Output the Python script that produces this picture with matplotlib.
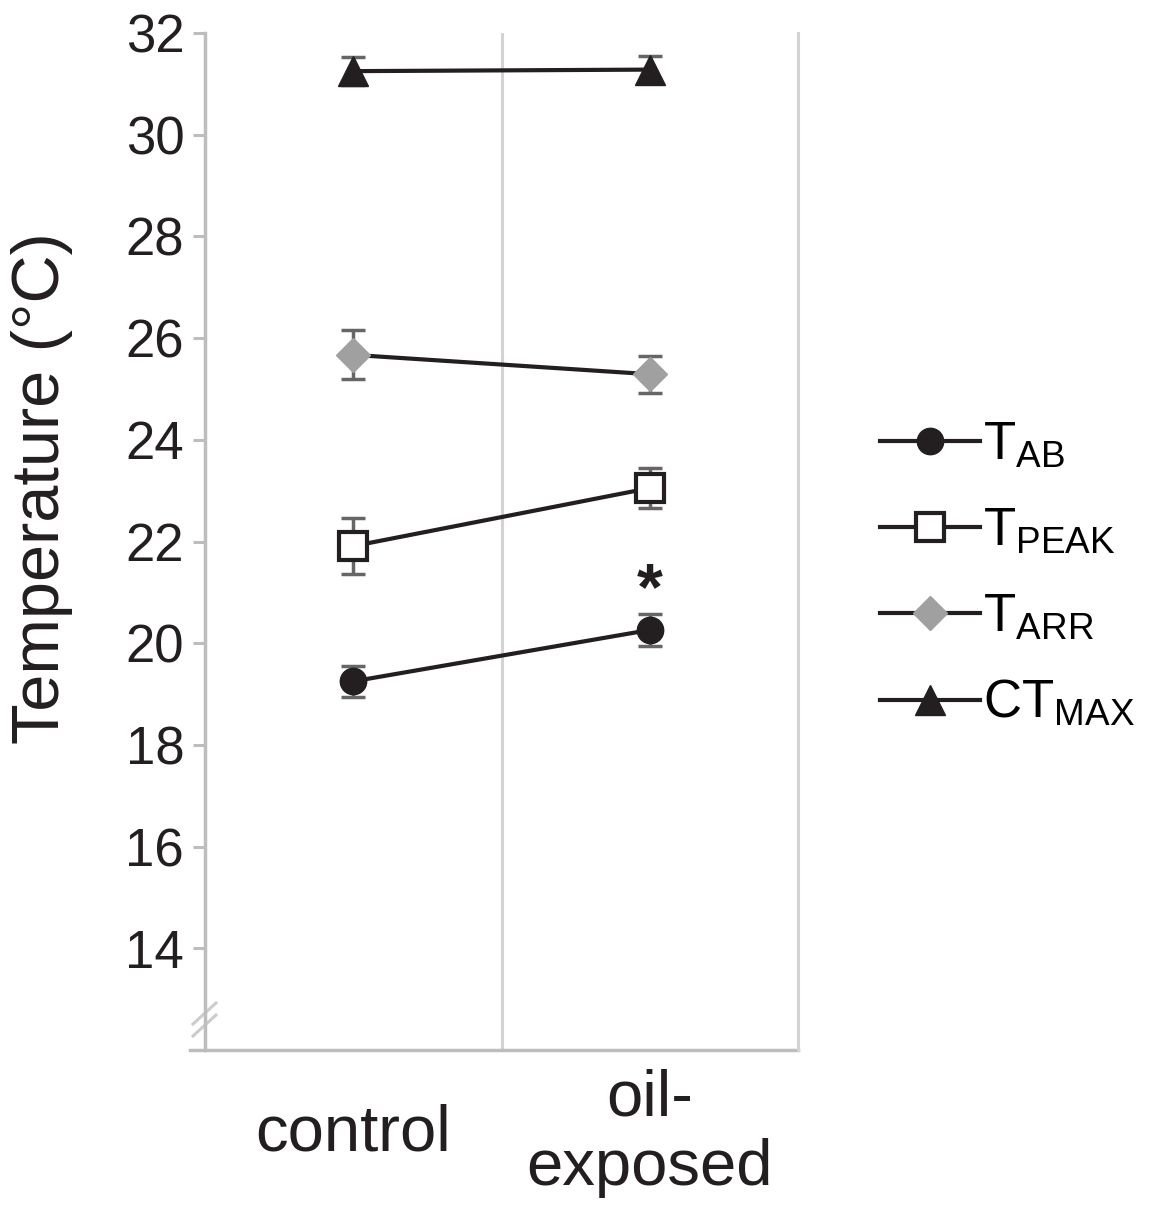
import numpy as np
import matplotlib.pyplot as plt
from matplotlib.lines import Line2D

plt.rcParams['font.family'] = ['Liberation Sans', 'DejaVu Sans']
plt.rcParams['mathtext.fontset'] = 'custom'
plt.rcParams['mathtext.rm'] = 'Liberation Sans'
plt.rcParams['mathtext.it'] = 'Liberation Sans'

# data
groups = ['control', 'oil-\nexposed']
t_ab = [19.25, 20.26]
t_ab_err = [0.30, 0.31]
t_peak = [21.91, 23.05]
t_peak_err = [0.55, 0.39]
t_arr = [25.67, 25.29]
t_arr_err = [0.48, 0.36]
ct_max = [31.25, 31.28]
ct_max_err = [0.28, 0.27]
yticks = [14, 16, 18, 20, 22, 24, 26, 28, 30, 32]

fig = plt.figure(figsize=(11.62, 12.17), dpi=100)
ax = fig.add_axes([205 / 1162, 1 - 1050 / 1217, (798 - 205) / 1162, (1050 - 33) / 1217])

x = np.array([0.5, 1.5])
spine_col = '#bdbdbd'
grid_col = '#d3d3d3'
err_col = '#666666'

series = [
    (t_ab, t_ab_err, dict(marker='o', ms=19, mfc='#231f20', mec='#231f20'), r'$\mathrm{T_{AB}}$'),
    (t_peak, t_peak_err, dict(marker='s', ms=20, mfc='white', mec='#231f20', mew=3), r'$\mathrm{T_{PEAK}}$'),
    (t_arr, t_arr_err, dict(marker='D', ms=17, mfc='#a0a0a0', mec='#a0a0a0'), r'$\mathrm{T_{ARR}}$'),
    (ct_max, ct_max_err, dict(marker='^', ms=21, mfc='#231f20', mec='#231f20'), r'$\mathrm{CT_{MAX}}$'),
]

handles = []
for vals, errs, mk, lab in series:
    ax.errorbar(x, vals, yerr=errs, fmt='none', ecolor=err_col, elinewidth=2.5,
                capsize=8.5, capthick=2.5, zorder=2)
    ax.plot(x, vals, color='#231f20', lw=3, zorder=3, **mk)
    handles.append(Line2D([], [], color='#231f20', lw=3, label=lab, **mk))

# significance marker
ax.annotate('*', (x[1], t_ab[1] + t_ab_err[1]), xytext=(0, 4), textcoords='offset points',
            ha='center', va='baseline', fontsize=48, fontweight='bold', color='#231f20')

ax.set_xlim(0, 2)
ax.set_ylim(12, 32)
ax.set_yticks(yticks)
ax.tick_params(axis='y', labelsize=38, length=9, width=2.2, color=spine_col, pad=6,
               labelcolor='#231f20')
ax.set_xticks(x)
ax.set_xticklabels(groups, fontsize=47, color='#231f20', linespacing=1.2)
ax.tick_params(axis='x', length=0, pad=60)
for lbl in ax.get_xticklabels():
    lbl.set_verticalalignment('center')

ax.axvline(1, color=grid_col, lw=2.2, zorder=0)
ax.spines['top'].set_visible(False)
ax.spines['right'].set_color(grid_col)
ax.spines['right'].set_linewidth(2.2)
ax.spines['left'].set_color(spine_col)
ax.spines['left'].set_linewidth(2.5)
ax.spines['bottom'].set_visible(False)
# bottom axis line reaching a bit past the left spine
ax.plot([-0.025, 1], [0, 0], transform=ax.transAxes, color=spine_col, lw=2.5, clip_on=False)

# axis break marks
bx = (np.array([193, 216]) - 205) / (798 - 205)
for y0, y1 in [(1024, 1003), (1036, 1015)]:
    by = (1050 - np.array([y0, y1])) / (1050 - 33)
    ax.plot(bx, by, transform=ax.transAxes, color='#cccccc', lw=2.2, clip_on=False)

ax.set_ylabel('Temperature (°C)', fontsize=48, color='#231f20')
ax.yaxis.set_label_coords(-0.222, (1050 - 488) / (1050 - 33))

fig.legend(handles=handles, loc='center left', bbox_to_anchor=(880 / 1162, 1 - 575 / 1217),
           frameon=False, fontsize=38, handlelength=1.9, handletextpad=0.05,
           labelspacing=0.68, borderpad=0, borderaxespad=0)

fig.savefig('out.png', dpi=100)
